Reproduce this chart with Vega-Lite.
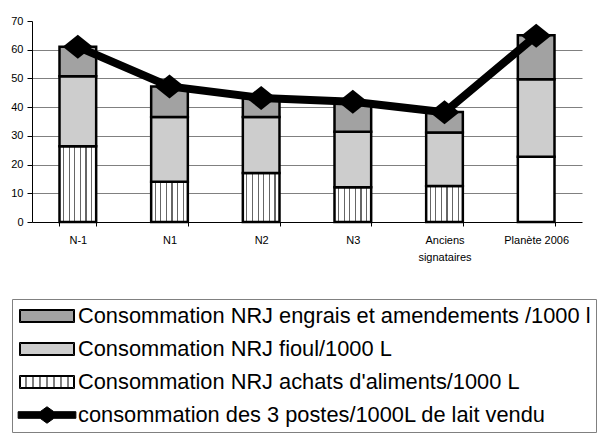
{
  "$schema": "https://vega.github.io/schema/vega-lite/v6.json",
  "width": 550,
  "height": 201,
  "autosize": {"type": "none"},
  "padding": {"left": 32, "top": 21, "right": 18, "bottom": 211},
  "background": "white",
  "config": {"font": "Liberation Sans", "view": {"stroke": null}},
  "datasets": {
    "barres": [
      {"cat": "N-1", "serie": "Consommation NRJ achats d'aliments/1000 L", "valeur": 26.4},
      {"cat": "N-1", "serie": "Consommation NRJ fioul/1000 L", "valeur": 24.4},
      {"cat": "N-1", "serie": "Consommation NRJ engrais et amendements /1000 l", "valeur": 10.2},
      {"cat": "N1", "serie": "Consommation NRJ achats d'aliments/1000 L", "valeur": 14.0},
      {"cat": "N1", "serie": "Consommation NRJ fioul/1000 L", "valeur": 22.6},
      {"cat": "N1", "serie": "Consommation NRJ engrais et amendements /1000 l", "valeur": 10.6},
      {"cat": "N2", "serie": "Consommation NRJ achats d'aliments/1000 L", "valeur": 17.1},
      {"cat": "N2", "serie": "Consommation NRJ fioul/1000 L", "valeur": 19.5},
      {"cat": "N2", "serie": "Consommation NRJ engrais et amendements /1000 l", "valeur": 6.5},
      {"cat": "N3", "serie": "Consommation NRJ achats d'aliments/1000 L", "valeur": 12.1},
      {"cat": "N3", "serie": "Consommation NRJ fioul/1000 L", "valeur": 19.3},
      {"cat": "N3", "serie": "Consommation NRJ engrais et amendements /1000 l", "valeur": 10.4},
      {"cat": "Anciens signataires", "serie": "Consommation NRJ achats d'aliments/1000 L", "valeur": 12.5},
      {"cat": "Anciens signataires", "serie": "Consommation NRJ fioul/1000 L", "valeur": 18.7},
      {"cat": "Anciens signataires", "serie": "Consommation NRJ engrais et amendements /1000 l", "valeur": 7.1},
      {"cat": "Planète 2006", "serie": "Consommation NRJ achats d'aliments/1000 L", "valeur": 22.7},
      {"cat": "Planète 2006", "serie": "Consommation NRJ fioul/1000 L", "valeur": 27.0},
      {"cat": "Planète 2006", "serie": "Consommation NRJ engrais et amendements /1000 l", "valeur": 15.3}
    ],
    "totaux": [
      {"cat": "N-1", "valeur": 61.0},
      {"cat": "N1", "valeur": 47.2},
      {"cat": "N2", "valeur": 43.2},
      {"cat": "N3", "valeur": 41.9},
      {"cat": "Anciens signataires", "valeur": 38.2},
      {"cat": "Planète 2006", "valeur": 64.9}
    ]
  },
  "encoding": {
    "x": {
      "field": "cat", "type": "nominal",
      "sort": ["N-1", "N1", "N2", "N3", "Anciens signataires", "Planète 2006"],
      "scale": {"paddingInner": 0.6, "paddingOuter": 0.3},
      "axis": {
        "title": null, "tickBand": "extent", "domainColor": "black", "domainWidth": 1,
        "tickColor": "black", "tickSize": 4, "labelFontSize": 11, "labelColor": "black",
        "labelPadding": 8, "labelAngle": 0, "labelLineHeight": 17, "grid": false,
        "labelExpr": "datum.label == 'Anciens signataires' ? ['Anciens', 'signataires'] : datum.label"
      }
    },
    "y": {
      "field": "valeur", "type": "quantitative",
      "scale": {"domain": [0, 70], "nice": false},
      "axis": {
        "title": null, "values": [0, 10, 20, 30, 40, 50, 60, 70], "grid": true,
        "labelOverlap": false,
        "gridColor": "#808080", "gridWidth": 1,
        "gridOpacity": {"condition": {"test": "datum.value === 70 || datum.value === 0", "value": 0}, "value": 1},
        "domainColor": "black", "tickColor": "black", "tickSize": 5,
        "labelFontSize": 11, "labelColor": "black", "labelPadding": 4
      }
    }
  },
  "layer": [
    {
      "data": {"name": "barres"},
      "transform": [
        {"calculate": "indexof(datum.serie, 'aliments') >= 0 ? 0 : (indexof(datum.serie, 'fioul') >= 0 ? 1 : 2)", "as": "rang"}
      ],
      "mark": {"type": "bar", "stroke": "black", "strokeWidth": 2.5},
      "encoding": {
        "color": {
          "condition": [
            {"test": "indexof(datum.serie, 'aliments') >= 0 && datum.cat === 'Planète 2006'", "value": "white"},
            {"test": "indexof(datum.serie, 'aliments') >= 0", "value": {"gradient": "linear", "x1": 0, "y1": 0, "x2": 1, "y2": 0, "stops": [
                {"offset": 0, "color": "white"},
                {"offset": 0.095, "color": "white"}, {"offset": 0.095, "color": "#666666"}, {"offset": 0.127, "color": "#666666"}, {"offset": 0.127, "color": "white"},
                {"offset": 0.248, "color": "white"}, {"offset": 0.248, "color": "#666666"}, {"offset": 0.280, "color": "#666666"}, {"offset": 0.280, "color": "white"},
                {"offset": 0.401, "color": "white"}, {"offset": 0.401, "color": "#666666"}, {"offset": 0.433, "color": "#666666"}, {"offset": 0.433, "color": "white"},
                {"offset": 0.554, "color": "white"}, {"offset": 0.554, "color": "#666666"}, {"offset": 0.586, "color": "#666666"}, {"offset": 0.586, "color": "white"},
                {"offset": 0.707, "color": "white"}, {"offset": 0.707, "color": "#666666"}, {"offset": 0.739, "color": "#666666"}, {"offset": 0.739, "color": "white"},
                {"offset": 0.860, "color": "white"}, {"offset": 0.860, "color": "#666666"}, {"offset": 0.892, "color": "#666666"}, {"offset": 0.892, "color": "white"},
                {"offset": 1, "color": "white"}
              ]}}
          ],
          "field": "serie", "type": "nominal",
          "scale": {
            "domain": [
              "Consommation NRJ engrais et amendements /1000 l",
              "Consommation NRJ fioul/1000 L",
              "Consommation NRJ achats d'aliments/1000 L",
              "consommation des 3 postes/1000L de lait vendu"
            ],
            "range": ["#a2a2a2", "#cdcdcd", "white", "black"]
          },
          "legend": {
            "title": null, "orient": "none", "legendX": -20, "legendY": 278,
            "direction": "vertical", "columns": 1,
            "strokeColor": "#808080", "padding": 5,
            "symbolSize": 3025, "symbolType": "M-1,-0.236H1V0.236H-1Z",
            "symbolStrokeColor": "black", "symbolStrokeWidth": 1, "symbolOpacity": 1,
            "symbolOffset": 2, "labelOffset": 3,
            "labelFontSize": 21.8, "labelColor": "black", "labelLimit": 700,
            "clipHeight": 24, "rowPadding": 9,
            "encode": {
              "symbols": {
                "update": {
                  "shape": {"signal": "indexof(datum.value, 'postes') >= 0 ? 'M-1.05,-0.12H-0.25L0,-0.3L0.25,-0.12H1.05V0.12H0.25L0,0.3L-0.25,0.12H-1.05Z' : (indexof(datum.value, 'aliments') >= 0 ? 'M-1,-0.236H1V0.236H-1ZM-0.964,-0.2H0.964V0.2H-0.964ZM-0.764,-0.236V0.236M-0.509,-0.236V0.236M-0.255,-0.236V0.236M0,-0.236V0.236M0.255,-0.236V0.236M0.509,-0.236V0.236M0.764,-0.236V0.236' : 'M-1,-0.236H1V0.236H-1ZM-0.964,-0.2H0.964V0.2H-0.964Z')"},
                  "stroke": {"value": "black"}
                }
              }
            }
          }
        },
        "order": {"field": "rang", "type": "quantitative"}
      }
    },
    {
      "data": {"name": "totaux"},
      "mark": {
        "type": "line", "color": "black", "strokeWidth": 8,
        "point": {"shape": "M-1,0L0,-0.8L1,0L0,0.8Z", "size": 900, "filled": true, "fill": "black", "opacity": 1}
      },
      "encoding": {}
    }
  ]
}
